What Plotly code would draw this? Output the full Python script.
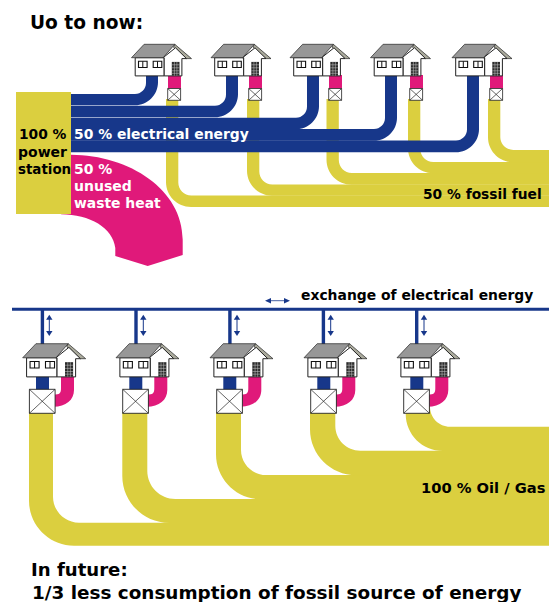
import plotly.graph_objects as go

# ---- diagram values (positions, in picture units) ----
TOP_HOUSE_X = [131.5, 211, 290, 370.5, 452]
BOTTOM_HOUSE_X = [22.7, 116, 210, 304, 397]

TOP_BLUE_LEFT = [146, 226, 307, 385, 467]
TOP_BLUE_Y0 = [94, 105.8, 117.8, 129, 140.5]
TOP_BLUE_Y1 = [105.3, 117.3, 129.3, 140.8, 152.3]

TOP_YELLOW_LEFT = [166, 247, 326.5, 408, 488]
TOP_YELLOW_Y0 = [195.5, 184.5, 173, 162, 150]
TOP_YELLOW_Y1 = [207, 195.7, 184.7, 173.2, 162.2]

TOP_PINK_LEFT = [168, 249, 329, 410, 490]

BOTTOM_YELLOW_LEFT = [29, 122.3, 216, 310, 405.7]
BOTTOM_YELLOW_RIGHT = [53, 147.3, 241, 335.3, 430]
BOTTOM_YELLOW_TOP = [412, 412, 412, 412, 406]
BOTTOM_YELLOW_Y0 = [522.7, 499, 475, 450.7, 426.7]
BOTTOM_YELLOW_Y1 = [545.7, 522.9, 499.2, 475.2, 450.9]
BOTTOM_YELLOW_RI = [26, 28, 25, 25, 20]
BOTTOM_YELLOW_RO = [45, 47, 45, 46, 37]

BOTTOM_STUB_X = [40.7, 134.3, 228.2, 321.7, 415]
BOTTOM_ARROW_X = [49.3, 143.3, 237, 330.7, 424]

YELLOW = "#DBCF3F"
BLUE = "#17378A"
PINK = "#E0197A"
GREY = "#979797"
GABLE = "#ABAB9D"
INK = "#222222"

LABELS = [
    ("Uo to now:", 30, 29, 18.6, "#000"),
    ("100 %", 19, 139, 13.8, "#000"),
    ("power", 18, 156.5, 14, "#000"),
    ("station", 18, 174, 13.4, "#000"),
    ("50 % electrical energy", 74, 139, 13.9, "#fff"),
    ("50 %", 74, 174, 14, "#fff"),
    ("unused", 74, 191, 14, "#fff"),
    ("waste heat", 74, 208, 13.9, "#fff"),
    ("50 % fossil fuel", 423, 199, 13.8, "#000"),
    ("exchange of electrical energy", 301, 300, 13.9, "#000"),
    ("100 % Oil / Gas", 421, 493, 14.7, "#000"),
    ("In future:", 31, 576, 18.1, "#000"),
    ("1/3 less consumption of fossil source of energy", 32, 599, 18.4, "#000"),
]

K = 0.45
shapes = []


def path(d, fill, line=None, w=0):
    shapes.append(dict(type="path", path=d, fillcolor=fill, layer="above",
                       line=dict(color=line or fill, width=w)))


def rect(x0, y0, x1, y1, fill, line=None, w=0):
    shapes.append(dict(type="rect", x0=x0, y0=y0, x1=x1, y1=y1, fillcolor=fill, layer="above",
                       line=dict(color=line or fill, width=w)))


def seg(x0, y0, x1, y1, color, w):
    shapes.append(dict(type="line", x0=x0, y0=y0, x1=x1, y1=y1, layer="above",
                       line=dict(color=color, width=w)))


def poly(pts, fill, line=None, w=0):
    d = "M" + " L".join(f"{a:.2f},{b:.2f}" for a, b in pts) + " Z"
    path(d, fill, line, w)


def down_right(xl, xr, top, y0, y1, ri, ro, xend, fill):
    """vertical band that bends to the right"""
    d = (f"M{xl},{top} L{xr},{top} L{xr},{y0-ri} "
         f"C{xr},{y0-ri*K} {xr+ri*K},{y0} {xr+ri},{y0} L{xend},{y0} L{xend},{y1} "
         f"L{xl+ro},{y1} C{xl+ro*K},{y1} {xl},{y1-ro*K} {xl},{y1-ro} Z")
    path(d, fill)


def right_up(xstart, xl, xr, top, y0, y1, ri, ro, fill):
    """horizontal band that bends upward"""
    d = (f"M{xstart},{y0} L{xl-ri},{y0} C{xl-ri*K},{y0} {xl},{y0-ri*K} {xl},{y0-ri} "
         f"L{xl},{top} L{xr},{top} L{xr},{y1-ro} C{xr},{y1-ro*K} {xr-ro*K},{y1} {xr-ro},{y1} "
         f"L{xstart},{y1} Z")
    path(d, fill)


def cross_box(x0, y0, x1, y1, w=0.8):
    rect(x0, y0, x1, y1, "#fff", INK, w)
    seg(x0, y0, x1, y1, INK, 0.7)
    seg(x0, y1, x1, y0, INK, 0.7)


def house(x, y, s):
    def P(a, b):
        return (x + a * s, y + b * s)
    poly([P(43.3, 0), P(60, 14.3), P(55, 14.3), P(42, 3)], GABLE, INK, 0.7)
    rect(*P(3.7, 13.4), *P(32.7, 31.6), "#fff", INK, 1)
    poly([P(31.6, 13.4), P(44, 3.5), P(55, 14.3), P(50.4, 14.3), P(50.4, 31.6), P(32.7, 31.6), P(32.7, 13.4)],
         "#fff", INK, 1)
    poly([P(0, 13.4), P(12.6, 0), P(43.3, 0), P(31.6, 13.4)], GREY, INK, 0.7)
    for wx in (7, 21.7):
        rect(*P(wx, 17), *P(wx + 8.6, 23.2), "#fff", "#111", 1.1)
        seg(*P(wx + 4.3, 17), *P(wx + 4.3, 23.2), "#111", 1)
    rect(*P(40.3, 17.6), *P(48, 31.4), "#2b2b2b")
    for gy in (20.5, 23.5, 26.5, 29):
        seg(*P(40.3, gy), *P(48, gy), "#cfcfcf", 0.5)
    for gx in (42.9, 45.4):
        seg(*P(gx, 17.6), *P(gx, 31.4), "#cfcfcf", 0.5)


def double_v(x, y0, y1, color=BLUE):
    seg(x, y0 + 3, x, y1 - 3, color, 1)
    poly([(x, y0), (x + 3.2, y0 + 5), (x - 3.2, y0 + 5)], color)
    poly([(x, y1), (x + 3.2, y1 - 5), (x - 3.2, y1 - 5)], color)


# ---- upper part ----
for xl, y0, y1 in zip(TOP_YELLOW_LEFT, TOP_YELLOW_Y0, TOP_YELLOW_Y1):
    down_right(xl, xl + 12.3, 99, y0, y1, 13, 25, 549.5, YELLOW)

for xl, y0, y1 in zip(TOP_BLUE_LEFT, TOP_BLUE_Y0, TOP_BLUE_Y1):
    right_up(71, xl, xl + 12, 75, y0, y1, 11, 23, BLUE)

path("M71,154.7 C130,155 183,190 182.7,240 L182.7,255 L147.7,266 L115.3,256 L115.3,248 "
     "C113,228 90,214.3 61,214.3 L71,200 Z", PINK)
rect(16, 92, 71, 214, YELLOW)

for hx, px, yx in zip(TOP_HOUSE_X, TOP_PINK_LEFT, TOP_YELLOW_LEFT):
    rect(px, 75, px + 13, 88.5, PINK)
    cross_box(px - 0.3, 88.5, px + 12.6, 100.3)
    house(hx, 44.3, 1)

# ---- lower part ----
for xl, xr, top, y0, y1, ri, ro in zip(BOTTOM_YELLOW_LEFT, BOTTOM_YELLOW_RIGHT, BOTTOM_YELLOW_TOP,
                                       BOTTOM_YELLOW_Y0, BOTTOM_YELLOW_Y1, BOTTOM_YELLOW_RI,
                                       BOTTOM_YELLOW_RO):
    down_right(xl, xr, top, y0, y1, ri, ro, 549.5, YELLOW)

rect(12, 307.8, 549.5, 310.8, BLUE)
for sx, ax in zip(BOTTOM_STUB_X, BOTTOM_ARROW_X):
    rect(sx, 309, sx + 3.4, 345, BLUE)
    double_v(ax, 314.7, 336)

seg(268, 300.7, 287, 300.7, BLUE, 0.8)
poly([(265, 300.7), (271, 298), (271, 303.4)], BLUE)
poly([(290, 300.7), (284, 298), (284, 303.4)], BLUE)

for hx in BOTTOM_HOUSE_X:
    bx = hx + 6.7
    rect(hx + 13.3, 375, hx + 26.3, 390, BLUE)
    a, b = hx + 38.3, hx + 51.3
    d = (f"M{a},375 L{b},375 L{b},390 C{b},400 {b-8},406.7 {bx+24},406.7 L{bx+24},394.7 "
         f"C{a-1},394.7 {a},393 {a},388 Z")
    path(d, PINK)
    cross_box(bx, 389.3, bx + 25.7, 413.3, 0.9)
    house(hx, 343.7, 1.05)

annotations = [
    dict(text=t, x=x, y=b - 0.928 * s, xref="x", yref="y", xanchor="left", yanchor="top",
         showarrow=False, borderpad=0, borderwidth=0,
         font=dict(family="DejaVu Sans", size=s, color=c, weight="bold"))
    for t, x, b, s, c in LABELS
]

fig = go.Figure()
fig.update_layout(
    width=549, height=602, margin=dict(l=0, r=0, t=0, b=0),
    paper_bgcolor="#fff", plot_bgcolor="#fff", showlegend=False,
    xaxis=dict(range=[0, 549], visible=False, fixedrange=True),
    yaxis=dict(range=[602, 0], visible=False, fixedrange=True),
    shapes=shapes, annotations=annotations,
)
fig.write_html("out.html", config=dict(displayModeBar=False),
               post_script="document.body.style.margin='0';document.body.style.overflow='hidden';")
